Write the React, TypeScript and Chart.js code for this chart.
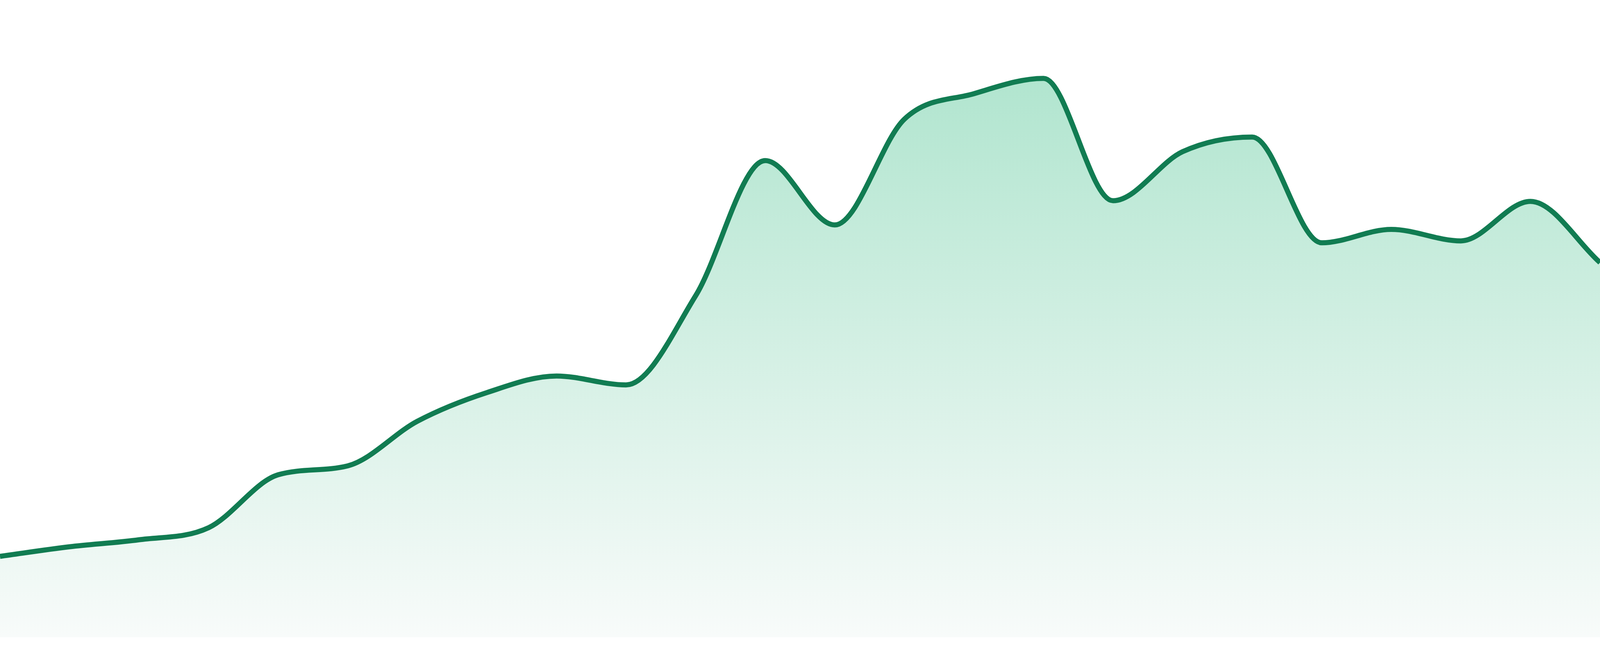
import { useEffect, useRef } from "react";
import { Chart, registerables } from "chart.js";

Chart.register(...registerables);

// 24 hourly samples (axes are hidden)
const hours = [
  "00:00", "01:00", "02:00", "03:00", "04:00", "05:00", "06:00", "07:00",
  "08:00", "09:00", "10:00", "11:00", "12:00", "13:00", "14:00", "15:00",
  "16:00", "17:00", "18:00", "19:00", "20:00", "21:00", "22:00", "23:00",
];

const activity = [
  12.7, 14.2, 15.3, 17.2, 25.5, 26.9, 33.9, 38.4,
  41.0, 39.6, 53.6, 74.8, 64.7, 81.3, 85.3, 87.7,
  68.5, 76.2, 78.5, 61.9, 64.0, 62.2, 68.4, 58.8,
];

const yMin = 0;
const yMax = 100;

export default function App() {
  const chartRef = useRef<HTMLCanvasElement>(null);
  const chartInstance = useRef<Chart | null>(null);

  useEffect(() => {
    document.body.style.margin = "0";
    document.body.style.overflow = "hidden";
    if (!chartRef.current) return;

    if (chartInstance.current) {
      chartInstance.current.destroy();
    }

    const ctx = chartRef.current.getContext("2d");
    if (!ctx) return;

    // reference is 1680px tall; keep vertical sizes relative to that
    const sy = window.innerHeight / 1680;

    chartInstance.current = new Chart(ctx, {
      type: "line",
      data: {
        labels: hours,
        datasets: [{
          label: "Activity",
          data: activity,
          borderColor: "#117c52",
          borderWidth: 13 * sy,
          cubicInterpolationMode: "monotone",
          pointRadius: 0,
          fill: "origin",
          backgroundColor: (context: any) => {
            const { chart } = context;
            const area = chart.chartArea;
            if (!area) return "#d6f0e4";
            const g = chart.ctx.createLinearGradient(0, area.top, 0, area.bottom);
            g.addColorStop(0, "#a7e2c9");
            g.addColorStop(1, "#f8fbfa");
            return g;
          },
        }],
      },
      options: {
        responsive: true,
        maintainAspectRatio: false,
        animation: false,
        layout: {
          padding: { top: 0, right: 0, bottom: 48 * sy, left: 0 },
        },
        plugins: {
          legend: { display: false },
          tooltip: { enabled: false },
        },
        scales: {
          x: { display: false, offset: false },
          y: { display: false, min: yMin, max: yMax },
        },
      },
    });

    return () => {
      if (chartInstance.current) {
        chartInstance.current.destroy();
        chartInstance.current = null;
      }
    };
  }, []);

  return (
    <div style={{ position: "fixed", inset: 0, background: "#ffffff" }}>
      <canvas ref={chartRef} />
    </div>
  );
}
